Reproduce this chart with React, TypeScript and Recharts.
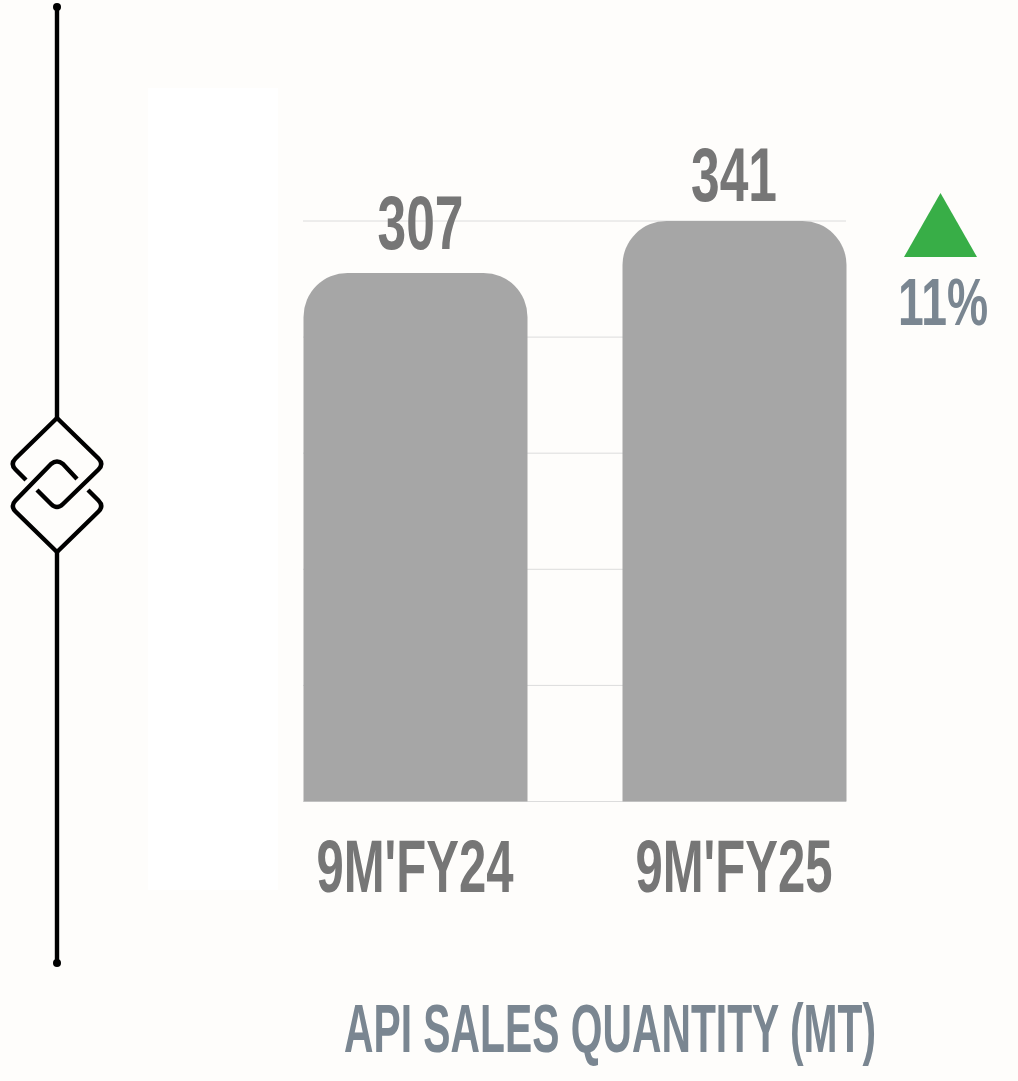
import React from "react";
import { BarChart, Bar, XAxis, YAxis, CartesianGrid, LabelList } from "recharts";

const periods = ["9M'FY24", "9M'FY25"];
const shownValues = [307, 341];
// Bar heights as drawn in the picture (they are not strictly proportional to the printed labels)
const drawnValues = [309.6, 340];
const gridTicks = [0, 68, 136, 204, 272, 340];
const growthLabel = "11%";
const chartTitle = "API SALES QUANTITY (MT)";

const rows = periods.map((period, i) => ({ period, drawn: drawnValues[i], shown: shownValues[i] }));

const FONT = "'Liberation Sans Narrow', 'Liberation Sans', sans-serif";
const TICK = "#767676";
const SLATE = "#7A8691";
const STRETCH = 1.4;

function Narrow({ x, baseline, width, size, fill, children }: any) {
  return (
    <text
      transform={`translate(${x} ${baseline}) scale(1 ${STRETCH})`}
      textLength={width}
      lengthAdjust="spacingAndGlyphs"
      fontFamily={FONT}
      fontWeight={700}
      fontSize={size / STRETCH}
      fill={fill}
    >
      {children}
    </text>
  );
}

const labelNudge = [{ dx: 5, dy: -23.5 }, { dx: -0.5, dy: -20.5 }];

function ValueLabel(props: any) {
  const { x, y, width, value, index } = props;
  const n = labelNudge[index] ?? { dx: 0, dy: -20 };
  const w = 86;
  return (
    <Narrow x={x + width / 2 + n.dx - w / 2} baseline={y + n.dy} width={w} size={76} fill={TICK}>
      {value}
    </Narrow>
  );
}

function PeriodTick(props: any) {
  const { x, payload } = props;
  const w = 197;
  return (
    <Narrow x={x - w / 2} baseline={892} width={w} size={74} fill={TICK}>
      {payload.value}
    </Narrow>
  );
}

export default function App() {
  return (
    <div style={{ position: "absolute", left: 0, top: 0, width: 1018, height: 1081, background: "#FEFDFB", overflow: "hidden" }}>
      <div style={{ position: "absolute", left: 148, top: 88, width: 130, height: 802, background: "#FFFFFF" }} />
      <BarChart
        width={1018}
        height={1081}
        data={rows}
        margin={{ top: 221, bottom: 0, left: 255.5, right: 124.5 }}
        style={{ position: "absolute", left: 0, top: 0 }}
      >
        <CartesianGrid horizontal vertical={false} stroke="#DCDCDC" strokeWidth={1} x={303} width={543} />
        <YAxis hide domain={[0, 340]} ticks={gridTicks} />
        <XAxis dataKey="period" axisLine={false} tickLine={false} tick={<PeriodTick />} interval={0} height={279.5} />
        <Bar dataKey="drawn" fill="#A6A6A6" barSize={224} radius={[44, 44, 0, 0]} isAnimationActive={false}>
          <LabelList dataKey="shown" content={<ValueLabel />} />
        </Bar>

        <g fill="none" stroke="#000000" strokeWidth={4.4} strokeLinecap="butt" strokeLinejoin="round">
          <path d="M57 7V418M57 552V963" />
          <path d="M26 480L15.5 469.5Q10 464 15.5 458.5L57 418L98.5 458.5Q104 464 98.5 469.5L63 504Q57 510 51 504L37 490" />
          <path d="M77 479L63 464Q57 459 51 464L15.5 500.5Q10 506 15.5 511.5L57 552L98.5 511.5Q104 506 98.5 500.5L88 490" />
        </g>
        <circle cx={57} cy={7} r={4} fill="#000000" />
        <circle cx={57} cy={963} r={4} fill="#000000" />

        <polygon points="904,257 940.5,193 977,257" fill="#38AE47" />
        <Narrow x={898} baseline={325} width={90} size={66} fill={SLATE}>{growthLabel}</Narrow>
        <Narrow x={344} baseline={1052} width={532} size={68} fill={SLATE}>{chartTitle}</Narrow>
      </BarChart>
    </div>
  );
}
